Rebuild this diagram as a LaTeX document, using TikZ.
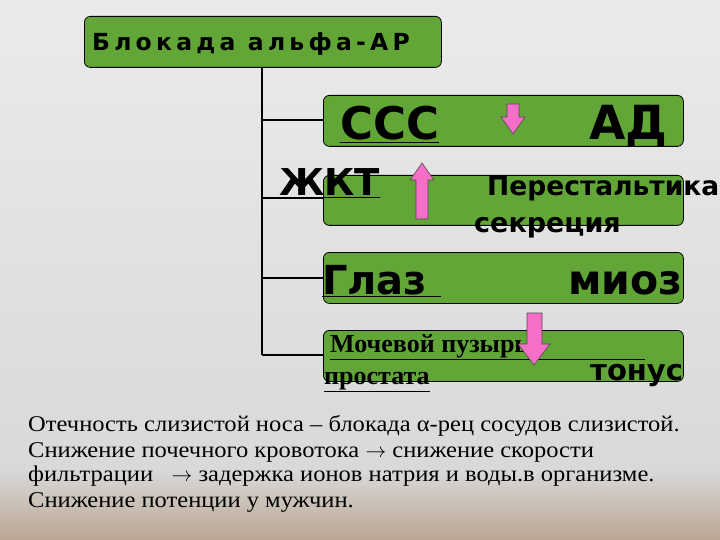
\documentclass[tikz,border=0pt]{standalone}
\usepackage{fontspec}
\setmainfont{Liberation Serif}
\newfontfamily\dv{DejaVu Sans}
\newfontfamily\dvs[LetterSpace=18]{DejaVu Sans}
\newfontfamily\nserif[FakeStretch=1.09]{Liberation Serif}
\definecolor{gbox}{RGB}{99,166,56}
\definecolor{pinkar}{RGB}{245,110,200}
\tikzset{
 gbox/.style={draw=black,fill=gbox,rounded corners=6pt,line width=0.8pt},
 conn/.style={line width=1.2pt},
 parr/.style={draw=black!70,fill=pinkar,line width=0.6pt},
 txt/.style={inner sep=0pt,anchor=base west},
 note/.style={txt,font=\nserif\fontsize{22.5}{24}\selectfont}
}
\begin{document}
\begin{tikzpicture}[x=1pt,y=-1pt]
\useasboundingbox (0,0) rectangle (720,540);
\shade[top color=white!92!black,bottom color=white!85!black] (0,0) rectangle (720,470);
\shade[top color=white!85!black,bottom color=brown!45!gray!70] (0,470) rectangle (720,540);
\begin{scope}
\clip (0,0) rectangle (720,540);
% boxes
\node[gbox,minimum width=357pt,minimum height=51pt,anchor=north west] (top) at (84,16) {};
\node[txt,font=\dvs\bfseries\fontsize{23.5}{25}\selectfont] (toptxt) at (92,51) {Блокада альфа-АР};
\node[gbox,minimum width=360pt,minimum height=51pt,anchor=north west] (b1) at (323,95) {};
\node[gbox,minimum width=360pt,minimum height=50pt,anchor=north west] (b2) at (323,175) {};
\node[gbox,minimum width=360pt,minimum height=51pt,anchor=north west] (b3) at (323,252) {};
\node[gbox,minimum width=360pt,minimum height=51pt,anchor=north west] (b4) at (323,330) {};
% connectors
\coordinate (v0) at (262,67);
\coordinate (v1) at (262,120);
\coordinate (v2) at (262,198);
\coordinate (v3) at (262,278);
\coordinate (v4) at (262,355);
\draw[conn] (v0) -- (v4);
\draw[conn] (v1) -- (b1.west|-v1);
\draw[conn] (v2) -- (b2.west|-v2);
\draw[conn] (v3) -- (b3.west|-v3);
\draw[conn] (v4) -- (b4.west|-v4);
% texts
\node[txt,font=\dv\bfseries\fontsize{45}{48}\selectfont] (ccc) at (340,140) {\underline{ССС}};
\node[txt,font=\dv\bfseries\fontsize{47}{50}\selectfont] (ad) at (589,140) {АД};
\node[txt,font=\dv\bfseries\fontsize{37}{40}\selectfont] (zkt) at (279,196) {\underline{ЖКТ}};
\node[txt,font=\dv\bfseries\fontsize{26.5}{28}\selectfont] (per) at (487,196) {Перестальтика};
\node[txt,font=\dv\bfseries\fontsize{27}{28}\selectfont] (sek) at (474,233) {секреция};
\node[txt,font=\dv\bfseries\fontsize{40}{42}\selectfont] (glaz) at (322,294) {\underline{Глаз\ }};
\node[txt,font=\dv\bfseries\fontsize{41}{42}\selectfont] (mioz) at (568,294) {миоз};
\node[txt,font=\bfseries\fontsize{26}{28}\selectfont] (moch) at (330,352) {\underline{Мочевой пузырь,\hspace{110pt}}};
\node[txt,font=\bfseries\fontsize{26}{28}\selectfont] (prost) at (324,384) {\underline{простата}};
\node[txt,font=\dv\bfseries\fontsize{29}{30}\selectfont] (ton) at (590,380) {тонус};
% arrows (block arrows)
\draw[parr] (507,104) -- (519,104) -- (519,117) -- (525,117) -- (513,134) -- (501,117) -- (507,117) -- cycle;
\draw[parr] (416,219) -- (428,219) -- (428,180) -- (434,180) -- (422,163) -- (410,180) -- (416,180) -- cycle;
\draw[parr] (527,313) -- (542,313) -- (542,344) -- (550,344) -- (534,365) -- (518,344) -- (527,344) -- cycle;
% notes
\node[note] (n1) at (28,431) {Отечность слизистой носа – блокада α-рец сосудов слизистой.};
\node[note] (n2) at (28,457) {Снижение почечного кровотока $\rightarrow$ снижение скорости};
\node[note] (n3) at (28,481) {фильтрации \ \ $\rightarrow$ задержка ионов натрия и воды.в организме.};
\node[note] (n4) at (28,507) {Снижение потенции у мужчин.};
\end{scope}
\end{tikzpicture}
\end{document}
